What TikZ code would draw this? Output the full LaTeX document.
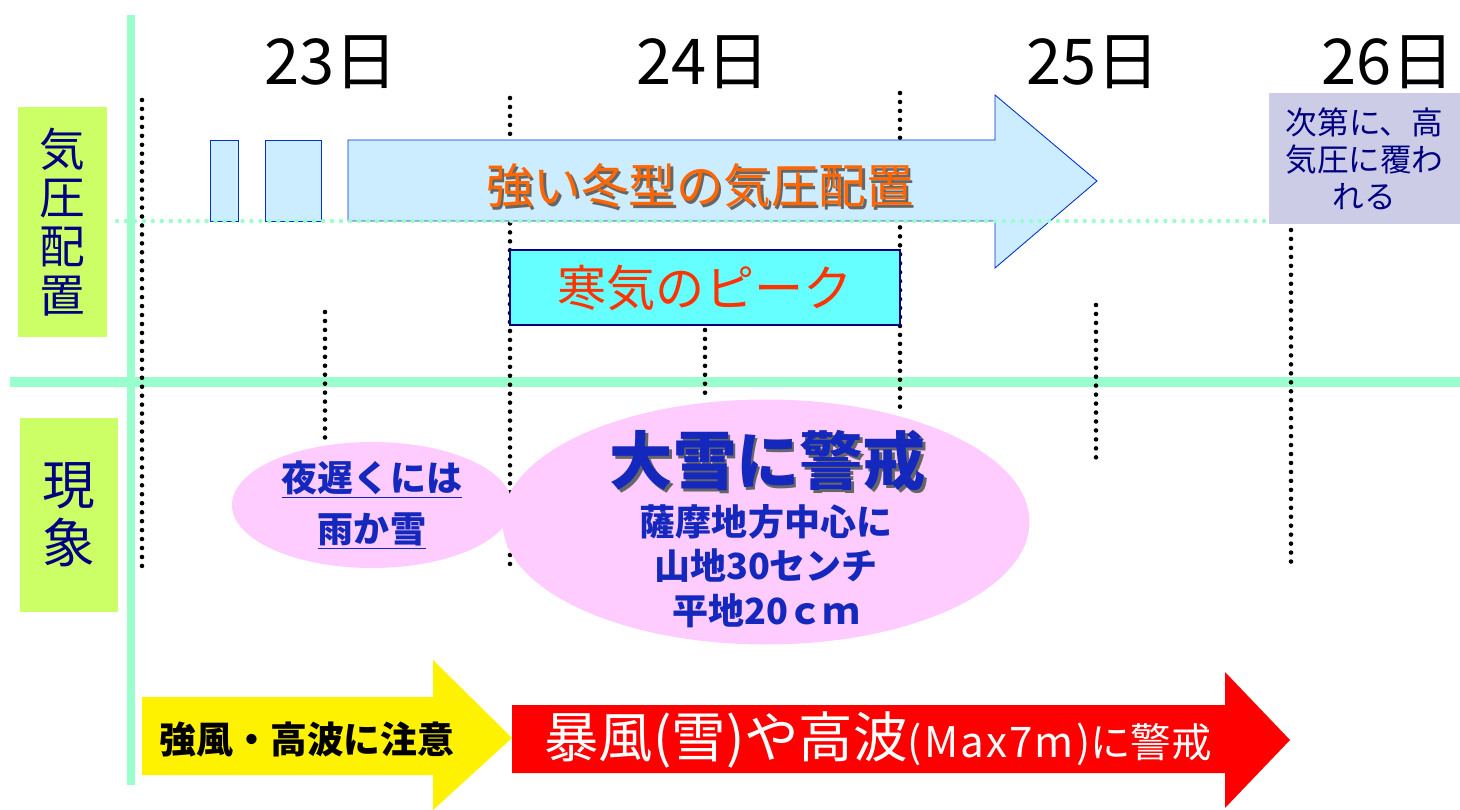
\documentclass[tikz,border=0pt]{standalone}
\usepackage{fontspec}
\setmainfont{Noto Sans CJK JP}
\usetikzlibrary{positioning,calc,shapes.geometric}

\definecolor{mint}{RGB}{153,255,204}
\definecolor{lime}{RGB}{204,255,102}
\definecolor{navytext}{RGB}{0,0,128}
\definecolor{skyfill}{RGB}{204,236,255}
\definecolor{skyline}{RGB}{0,51,204}
\definecolor{orangetext}{RGB}{255,102,0}
\definecolor{peakfill}{RGB}{102,255,255}
\definecolor{peaktext}{RGB}{255,51,0}
\definecolor{lavender}{RGB}{204,204,230}
\definecolor{pinkfill}{RGB}{255,204,255}
\definecolor{snowtext}{RGB}{20,40,190}

% text with a soft drop shadow
\newcommand{\shadowed}[2]{\rlap{\hspace{1.4pt}\raisebox{-1.4pt}{\textcolor{black!60}{#2}}}\textcolor{#1}{#2}}

\begin{document}
\begin{tikzpicture}[
    x=0.02cm, y=-0.02cm,
    guide/.style={draw=black, line width=2.6pt, dash pattern=on 0pt off 5.1pt, line cap=round},
    axis/.style={draw=mint, line width=#1},
    rowlabel/.style={fill=lime, text=navytext, align=center, inner sep=0pt},
    day/.style={font=\fontsize{36}{38}\selectfont, text=black},
    arrowbox/.style={fill=skyfill, draw=skyline, line width=0.5pt}
]

    % Frame
    \useasboundingbox (0,0) rectangle (1460,810);
    \path[fill=white] (0,0) rectangle (1460,810);

    % Axes
    \draw[axis=4pt] (131,15) -- (131,785);
    \draw[axis=5.5pt] (10,382) -- (1460,382);

    % Row labels
    \node (pressure) [rowlabel, minimum width=89*0.02cm, minimum height=230*0.02cm,
        font=\fontsize{26}{27.8}\selectfont] at (62,222) {気\\圧\\配\\置};
    \node (events) [rowlabel, minimum width=98*0.02cm, minimum height=194*0.02cm,
        font=\fontsize{30}{33}\selectfont] at (69,515) {現\\象};

    % Dates
    \node (d23) [day] at (331,62) {23日};
    \node (d24) [day] at (703,62) {24日};
    \node (d25) [day] at (1093,62) {25日};
    \node (d26) [day] at (1388,62) {26日};

    % Guides
    \draw[guide] (142,100) -- (142,570);
    \draw[guide] (325,312) -- (325,440);
    \draw[guide] (510,98) -- (510,570);
    \draw[guide] (705,330) -- (705,400);
    \draw[guide] (900,93) -- (900,410);
    \draw[guide] (1096,305) -- (1096,465);
    \draw[guide] (1291,230) -- (1291,563);

    % Winter pattern arrow
    \draw[arrowbox] (210,140) rectangle (238,221);
    \draw[arrowbox] (265,140) rectangle (321,221);
    \draw[arrowbox]
        (348,140) -- (995,140) -- (995,95) -- (1097,181) -- (995,268) -- (995,221) -- (348,221) -- cycle;
    \node (winter) [font=\fontsize{27}{29}\selectfont] at (700,187) {\shadowed{orangetext}{強い冬型の気圧配置}};

    % Baseline of pressure row
    \draw[draw=mint, line width=2.5pt, dash pattern=on 0pt off 5.1pt, line cap=round] (117,221) -- (1460,221);

    % Later high pressure
    \node (high) [fill=lavender, text=navytext, align=center, inner sep=0pt,
        minimum width=191*0.02cm, minimum height=131*0.02cm,
        font=\fontsize{18}{21}\selectfont] at (1364.5,158.5) {次第に、高\\気圧に覆わ\\れる};

    % Cold peak
    \node (peak) [draw=navytext, line width=0.6pt, fill=peakfill, text=peaktext,
        minimum width=390*0.02cm, minimum height=75*0.02cm,
        font=\fontsize{28}{30}\selectfont] at (705,287.5) {寒気のピーク};

    % Rain or snow
    \node (rain) [ellipse, fill=pinkfill, minimum width=280*0.02cm, minimum height=126*0.02cm,
        inner sep=0pt] at (372,505) {};
    \node (raintext) [text=snowtext, align=center, font=\bfseries\fontsize{20.5}{29}\selectfont]
        at (rain.center) {\underline{夜遅くには}\\\underline{雨か雪}};

    % Heavy snow
    \node (snow) [ellipse, fill=pinkfill, minimum width=527*0.02cm, minimum height=245*0.02cm,
        inner sep=0pt] at (766,522) {};
    \node (snowhead) [font=\bfseries\fontsize{36}{38}\selectfont] at (768,462) {\shadowed{snowtext}{大雪に警戒}};
    \node (snowtext) [text=snowtext, align=center, font=\bfseries\fontsize{20.5}{25.5}\selectfont]
        at (766,566) {薩摩地方中心に\\山地30センチ\\平地20ｃｍ};

    % Wind arrows
    \fill[yellow] (142,697) -- (433,697) -- (433,660) -- (512,738) -- (433,810) -- (433,775) -- (142,775) -- cycle;
    \node (caution) [text=black, font=\bfseries\fontsize{21}{23}\selectfont] at (307,740) {強風・高波に注意};
    \fill[red] (512,705) -- (1225,705) -- (1225,672) -- (1290,740) -- (1225,808) -- (1225,773) -- (512,773) -- cycle;
    \node (storm) [text=white, font=\fontsize{31}{33}\selectfont, anchor=west] at (538,740)
        {暴風(雪)や高波{\fontsize{24}{26}\selectfont\addfontfeature{LetterSpace=5}(Max7m)}{\fontsize{23}{25}\selectfont に警戒}};

\end{tikzpicture}
\end{document}
